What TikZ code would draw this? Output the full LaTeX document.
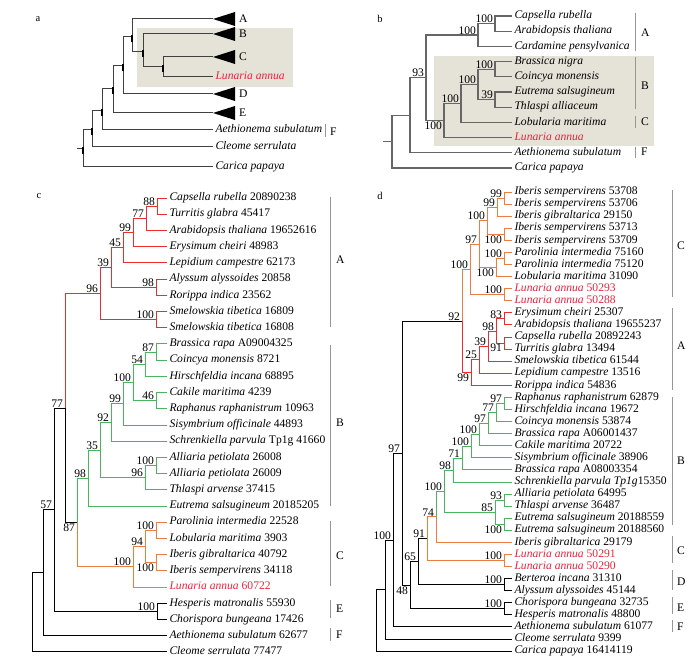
\documentclass[tikz,border=0pt]{standalone}
\usepackage{fontspec}
\setmainfont{Liberation Serif}
\definecolor{cladeA}{RGB}{235,45,45}
\definecolor{cladeB}{RGB}{75,180,95}
\definecolor{cladeC}{RGB}{235,125,65}
\definecolor{lunred}{RGB}{235,35,60}
\definecolor{boxgray}{RGB}{229,226,216}
\definecolor{bargray}{RGB}{150,150,150}
\tikzset{
  taxon/.style={anchor=west, inner xsep=2.5pt, inner ysep=0pt, outer sep=0pt, text height=8.2pt, text depth=2.7pt},
  ataxon/.style={taxon, font=\fontsize{11.6}{13}\selectfont},
  clab/.style={anchor=west, inner sep=1pt},
  plab/.style={inner sep=0pt, font=\fontsize{10.5}{12}\selectfont},
  bsa/.style={anchor=south east, inner xsep=1.8pt, inner ysep=0.5pt},
  bsb/.style={anchor=north east, inner xsep=1.8pt, inner ysep=1pt},
  abr/.style={line width=1pt, black!75},
  bbr/.style={line width=1.1pt, black!60},
  br/.style={line width=0.8pt},
  nbar/.style={line width=2pt, black},
  cbar/.style={line width=1pt, bargray}
}
\begin{document}
\begin{tikzpicture}[x=1pt,y=-1pt, every node/.style={font=\fontsize{11.6}{13}\selectfont}]
\useasboundingbox (0,0) rectangle (694,663);

% panel a
\node[plab] (pa) at (38,19) {a};
\fill[boxgray](137,28)rectangle(293,87);
\foreach \n/\y in {A/19,B/34,C/57,D/94,E/113}{
  \coordinate (a\n) at (213,\y);
  \fill (a\n) -- ++(22,-7) -- ++(0,14) -- cycle;
  \node[clab] (la\n) at (238,\y) {\n};
}
\node[ataxon,text=lunred] (aL) at (213,77) {\textit{Lunaria annua}};
\node[ataxon] (aF) at (213,130) {\textit{Aethionema subulatum}};
\node[ataxon] (aCl) at (213,147) {\textit{Cleome serrulata}};
\node[ataxon] (aCa) at (213,167) {\textit{Carica papaya}};
\coordinate (an1) at (163,67);
\coordinate (an2) at (143,52);
\coordinate (an3) at (132,37);
\coordinate (an4) at (123,66);
\coordinate (an5) at (113,89);
\coordinate (an6) at (102,111);
\coordinate (an7) at (92,130);
\coordinate (an8) at (83,149);
\coordinate (ar) at (77,149);
\foreach \p/\q in {an1/aC,an1/aL,an2/aB,an2/an1,an3/aA,an3/an2,an4/an3,an4/aD,an5/an4,an5/aE,
  an6/an5,an6/aF,an7/an6,an7/aCl,an8/an7,an8/aCa}
  \draw[abr] (\p) |- (\q);
\draw[abr] (ar) -- (an8);
\foreach \n in {an1,an2,an3,an4,an5,an6,an7,an8}
  \draw[nbar] ([yshift=2pt]\n) -- ([yshift=-5pt]\n);
\draw[cbar] (325,124) -- (325,137);
\node[clab] (laF) at (329,132) {F};

% panel b
\node[plab] (pb) at (380,19) {b};
\fill[boxgray](434,56)rectangle(654,146);
\foreach \i/\t in {0/Capsella rubella,1/Arabidopsis thaliana,2/Cardamine pensylvanica,3/Brassica nigra,
  4/Coincya monensis,5/Eutrema salsugineum,6/Thlaspi alliaceum,7/Lobularia maritima,
  9/Aethionema subulatum,10/Carica papaya}
  \node[taxon] (bl\i) at (512,{16+15.2*\i}) {\textit{\t}};
\node[taxon,text=lunred] (bl8) at (512,{16+15.2*8}) {\textit{Lunaria annua}};
\coordinate (bn1) at (495,23.6);
\coordinate (bn2) at (478,35);
\coordinate (bn3) at (495,69.2);
\coordinate (bn4) at (495,99.6);
\coordinate (bn5) at (478,84.4);
\coordinate (bn6) at (461,103.4);
\coordinate (bn7) at (444,120.5);
\coordinate (bn8) at (426,77.8);
\coordinate (bn9) at (410,115.3);
\coordinate (bn0) at (392,141.6);
\coordinate (br) at (383,141.6);
\foreach \p/\q in {bn1/bl0,bn1/bl1,bn2/bn1,bn2/bl2,bn3/bl3,bn3/bl4,bn4/bl5,bn4/bl6,bn5/bn3,bn5/bn4,
  bn6/bn5,bn6/bl7,bn7/bn6,bn7/bl8,bn8/bn2,bn8/bn7,bn9/bn8,bn9/bl9,bn0/bn9,bn0/bl10}
  \draw[bbr] (\p) |- (\q);
\draw[bbr] (br) -- (bn0);
\foreach \n/\v in {bn1/100,bn2/100,bn3/100,bn4/39,bn5/100,bn6/100,bn8/93}
  \node[bsa] (s\n) at (\n) {\v};
\node[bsb] (sbn7) at (bn7) {100};
\foreach \l/\ya/\yb/\ym in {A/13/51/33,B/57/109/86,C/116/128/122,F/147/158/152}{
  \draw[cbar] (635,\ya) -- (635,\yb);
  \node[clab] (lb\l) at (640,\ym) {\l};
}

% panel c
\node[plab] (pc) at (39,196) {c};
\foreach \i/\t/\n in {0/Capsella rubella/20890238,1/Turritis glabra/45417,2/Arabidopsis thaliana/19652616,
  3/Erysimum cheiri/48983,4/Lepidium campestre/62173,5/Alyssum alyssoides/20858,6/Rorippa indica/23562,
  7/Smelowskia tibetica/16809,8/Smelowskia tibetica/16808,9/Brassica rapa/A09004325,10/Coincya monensis/8721,
  11/Hirschfeldia incana/68895,12/Cakile maritima/4239,13/Raphanus raphanistrum/10963,
  14/Sisymbrium officinale/44893,15/Schrenkiella parvula/Tp1g 41660,16/Alliaria petiolata/26008,
  17/Alliaria petiolata/26009,18/Thlaspi arvense/37415,19/Eutrema salsugineum/20185205,
  20/Parolinia intermedia/22528,21/Lobularia maritima/3903,22/Iberis gibraltarica/40792,
  23/Iberis sempervirens/34118,25/Hesperis matronalis/55930,26/Chorispora bungeana/17426,
  27/Aethionema subulatum/62677,28/Cleome serrulata/77477}
  \node[taxon] (cl\i) at (167,{198+16.21*\i}) {\textit{\t} \n};
\node[taxon,text=lunred] (cl24) at (167,{198+16.21*24}) {\textit{Lunaria annua} 60722};
\coordinate (cn1) at (157,206.1);
\coordinate (cn2) at (146,218.3);
\coordinate (cn3) at (133,232.4);
\coordinate (cn4) at (123,247.6);
\coordinate (cn5) at (156,287.2);
\coordinate (cn6) at (111,267.4);
\coordinate (cn7) at (156,319.6);
\coordinate (cn8) at (100,293.5);
\coordinate (cn9) at (156,352);
\coordinate (cn10) at (145,364.2);
\coordinate (cn11) at (156,400.6);
\coordinate (cn12) at (133,382.4);
\coordinate (cn13) at (123,403.7);
\coordinate (cn14) at (111,422.4);
\coordinate (cn15) at (156,465.5);
\coordinate (cn16) at (145,477.7);
\coordinate (cn17) at (100,450);
\coordinate (cn18) at (88,478);
\coordinate (cn19) at (156,530.3);
\coordinate (cn20) at (156,562.7);
\coordinate (cn21) at (145,546.5);
\coordinate (cn22) at (133,566.8);
\coordinate (cn23) at (77,522.4);
\coordinate (cn24) at (65,408);
\coordinate (cn25) at (157,611.4);
\coordinate (cn26) at (54,509.7);
\coordinate (cn27) at (43,572.7);
\coordinate (cn28) at (32,612.3);
\foreach \p/\q in {cn1/cl0,cn1/cl1,cn2/cn1,cn2/cl2,cn3/cn2,cn3/cl3,cn4/cn3,cn4/cl4,cn5/cl5,cn5/cl6,
  cn6/cn4,cn6/cn5,cn7/cl7,cn7/cl8,cn8/cn6,cn8/cn7,cn24/cn8}
  \draw[br,cladeA] (\p) |- (\q);
\foreach \p/\q in {cn9/cl9,cn9/cl10,cn10/cn9,cn10/cl11,cn11/cl12,cn11/cl13,cn12/cn10,cn12/cn11,
  cn13/cn12,cn13/cl14,cn14/cn13,cn14/cl15,cn15/cl16,cn15/cl17,cn16/cn15,cn16/cl18,cn17/cn14,
  cn17/cn16,cn18/cn17,cn18/cl19,cn23/cn18}
  \draw[br,cladeB] (\p) |- (\q);
\foreach \p/\q in {cn19/cl20,cn19/cl21,cn20/cl22,cn20/cl23,cn21/cn19,cn21/cn20,cn22/cn21,cn22/cl24,cn23/cn22}
  \draw[br,cladeC] (\p) |- (\q);
\foreach \p/\q in {cn24/cn23,cn25/cl25,cn25/cl26,cn26/cn24,cn26/cn25,cn27/cn26,cn27/cl27,cn28/cn27,cn28/cl28}
  \draw[br,black] (\p) |- (\q);
\foreach \n/\v in {cn1/88,cn2/77,cn3/99,cn4/45,cn5/98,cn6/39,cn7/100,cn8/96,cn9/87,cn10/54,cn11/46,
  cn12/100,cn13/99,cn14/92,cn15/100,cn16/96,cn17/35,cn18/98,cn19/100,cn21/94,cn22/100,cn24/77,
  cn25/100,cn26/57}
  \node[bsa] (s\n) at (\n) {\v};
\node[bsb] (scn20) at (cn20) {100};
\node[bsb] (scn23) at (cn23) {87};
\foreach \k/\l/\ya/\yb/\ym in {1/A/197/327/260,2/B/345/506/423,3/C/521/586/556,4/E/600/618/609,5/F/628/641/635}{
  \draw[cbar] (330,\ya) -- (330,\yb);
  \node[clab] (lc\k) at (335,\ym) {\l};
}

% panel d
\node[plab] (pd) at (380,196) {d};
\foreach \i/\t/\n in {0/Iberis sempervirens/53708,1/Iberis sempervirens/53706,2/Iberis gibraltarica/29150,
  3/Iberis sempervirens/53713,4/Iberis sempervirens/53709,5/Parolinia intermedia/75160,
  6/Parolinia intermedia/75120,7/Lobularia maritima/31090,10/Erysimum cheiri/25307,
  11/Arabidopsis thaliana/19655237,12/Capsella rubella/20892243,13/Turritis glabra/13494,
  14/Smelowskia tibetica/61544,15/Lepidium campestre/13516,16/Rorippa indica/54836,
  17/Raphanus raphanistrum/62879,18/Hirschfeldia incana/19672,19/Coincya monensis/53874,
  20/Brassica rapa/A06001437,21/Cakile maritima/20722,22/Sisymbrium officinale/38906,
  23/Brassica rapa/A08003354,24/Schrenkiella parvula/{\textit{Tp1g}15350},25/Alliaria petiolata/64995,
  26/Thlaspi arvense/36487,27/Eutrema salsugineum/20188559,28/Eutrema salsugineum/20188560,
  29/Iberis gibraltarica/29179,32/Berteroa incana/31310,33/Alyssum alyssoides/45144,
  34/Chorispora bungeana/32735,35/Hesperis matronalis/48800,36/Aethionema subulatum/61077,
  37/Cleome serrulata/9399,38/Carica papaya/16414119}
  \node[taxon] (dl\i) at (512,{192+12.08*\i}) {\textit{\t} \n};
\foreach \i/\n in {8/50293,9/50288,30/50291,31/50290}
  \node[taxon,text=lunred] (dl\i) at (512,{192+12.08*\i}) {\textit{Lunaria annua} \n};
\coordinate (dn1) at (504,198.1);
\coordinate (dn2) at (497,207.1);
\coordinate (dn3) at (504,234.3);
\coordinate (dn4) at (487,220.7);
\coordinate (dn5) at (504,258.5);
\coordinate (dn6) at (496,267.5);
\coordinate (dn7) at (479,244.1);
\coordinate (dn8) at (504,294.7);
\coordinate (dn9) at (470,269.4);
\coordinate (dn10) at (504,318.9);
\coordinate (dn11) at (504,343);
\coordinate (dn12) at (496,331);
\coordinate (dn13) at (488,346);
\coordinate (dn14) at (479,359.6);
\coordinate (dn15) at (471,372.5);
\coordinate (dn16) at (462,321);
\coordinate (dn17) at (504,403.4);
\coordinate (dn18) at (496,412.5);
\coordinate (dn19) at (488,423);
\coordinate (dn20) at (479,434.4);
\coordinate (dn21) at (471,446.1);
\coordinate (dn22) at (462,458);
\coordinate (dn23) at (453,470);
\coordinate (dn24) at (504,500);
\coordinate (dn25) at (504,524.2);
\coordinate (dn26) at (495,512.1);
\coordinate (dn27) at (444,491);
\coordinate (dn28) at (436,516.7);
\coordinate (dn29) at (504,560.5);
\coordinate (dn30) at (427,538.6);
\coordinate (dn31) at (504,584.6);
\coordinate (dn32) at (418,561.6);
\coordinate (dn33) at (504,608.8);
\coordinate (dn34) at (410,585.2);
\coordinate (dn35) at (402,453.1);
\coordinate (dn36) at (393,540);
\coordinate (dn37) at (385,589.5);
\coordinate (dn38) at (376,620.3);
\foreach \p/\q in {dn1/dl0,dn1/dl1,dn2/dn1,dn2/dl2,dn3/dl3,dn3/dl4,dn4/dn2,dn4/dn3,dn5/dl5,dn5/dl6,
  dn6/dn5,dn6/dl7,dn7/dn4,dn7/dn6,dn8/dl8,dn8/dl9,dn9/dn7,dn9/dn8,dn16/dn9,dn28/dl29,dn29/dl30,
  dn29/dl31,dn30/dn28,dn30/dn29}
  \draw[br,cladeC] (\p) |- (\q);
\foreach \p/\q in {dn10/dl10,dn10/dl11,dn11/dl12,dn11/dl13,dn12/dn10,dn12/dn11,dn13/dn12,dn13/dl14,
  dn14/dn13,dn14/dl15,dn15/dn14,dn15/dl16,dn16/dn15}
  \draw[br,cladeA] (\p) |- (\q);
\foreach \p/\q in {dn17/dl17,dn17/dl18,dn18/dn17,dn18/dl19,dn19/dn18,dn19/dl20,dn20/dn19,dn20/dl21,
  dn21/dn20,dn21/dl22,dn22/dn21,dn22/dl23,dn23/dn22,dn23/dl24,dn24/dl25,dn24/dl26,dn25/dl27,
  dn25/dl28,dn26/dn24,dn26/dn25,dn27/dn23,dn27/dn26,dn28/dn27}
  \draw[br,cladeB] (\p) |- (\q);
\foreach \p/\q in {dn31/dl32,dn31/dl33,dn32/dn30,dn32/dn31,dn33/dl34,dn33/dl35,dn34/dn32,dn34/dn33,
  dn35/dn16,dn35/dn34,dn36/dn35,dn36/dl36,dn37/dn36,dn37/dl37,dn38/dn37,dn38/dl38}
  \draw[br,black] (\p) |- (\q);
\foreach \n/\v in {dn1/99,dn2/99,dn4/100,dn5/100,dn7/97,dn8/100,dn9/100,dn10/83,dn12/98,dn13/39,
  dn14/25,dn16/92,dn17/97,dn18/77,dn19/97,dn20/100,dn21/100,dn22/71,dn23/98,dn24/93,dn26/85,
  dn27/100,dn28/74,dn29/100,dn30/91,dn31/100,dn32/65,dn33/100,dn35/97,dn36/100}
  \node[bsa] (s\n) at (\n) {\v};
\foreach \n/\v in {dn3/100,dn6/100,dn11/91,dn15/99,dn25/100,dn34/48}
  \node[bsb] (s\n) at (\n) {\v};
\foreach \k/\l/\ya/\yb/\ym in {1/C/190/297/246,2/A/308/390/346,3/B/397/525/461,4/C/536/563/551,
  5/D/570/590/582,6/E/597/614/608,7/F/620/632/627}{
  \draw[cbar] (672,\ya) -- (672,\yb);
  \node[clab] (ld\k) at (676,\ym) {\l};
}
\end{tikzpicture}
\end{document}
